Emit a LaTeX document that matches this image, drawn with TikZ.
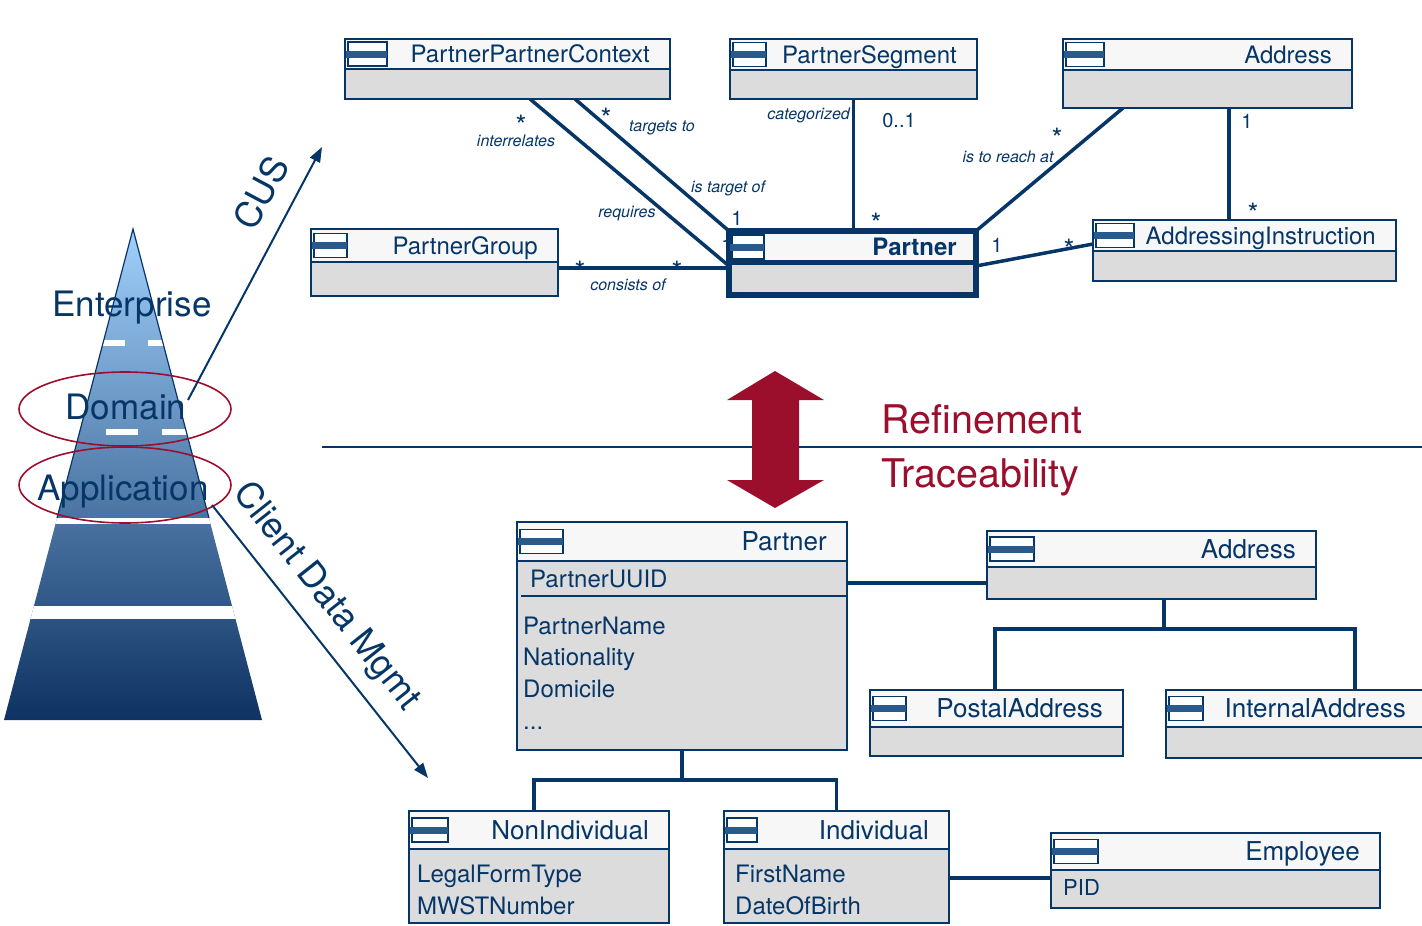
\documentclass[tikz,border=0pt]{standalone}
\usepackage{fontspec}
\setmainfont{TeX Gyre Heros}
\usetikzlibrary{calc,arrows.meta,backgrounds}

\definecolor{navy}{RGB}{6,54,104}
\definecolor{barblue}{RGB}{40,90,142}
\definecolor{headfill}{RGB}{247,247,247}
\definecolor{bodyfill}{RGB}{220,220,220}
\definecolor{wine}{RGB}{155,15,45}
\definecolor{pyrtop}{RGB}{160,208,252}
\definecolor{pyrmid}{RGB}{112,156,206}
\definecolor{pyrbot}{RGB}{14,50,98}

\newcommand{\fsz}[1]{\fontsize{#1pt}{#1pt}\selectfont}

\tikzset{
  classbody/.style={draw=navy, line width=2pt, fill=bodyfill, inner sep=0pt,
                    outer sep=0pt, anchor=north west},
  boxline/.style={draw=navy, line width=2pt},
  assoc/.style={draw=navy, line width=3.5pt},
  genline/.style={draw=navy, line width=3.5pt},
  role/.style={text=navy, font=\fsz{16}\itshape, inner sep=0pt},
  mult/.style={text=navy, font=\fsz{20}, inner sep=0pt},
  starlbl/.style={text=navy, font=\fsz{28}, inner sep=0pt, anchor=base},
  ctitle/.style={text=navy, anchor=base east, inner sep=0pt},
  attr/.style={text=navy, font=\fsz{24}, anchor=base west, inner sep=0pt},
  layername/.style={text=navy, font=\fsz{35}, inner sep=0pt},
  levelarrow/.style={draw=navy, line width=2pt, -{Triangle[length=15pt, width=11pt]}},
  levellabel/.style={text=navy, font=\fsz{36}, inner sep=0pt},
  bigword/.style={text=wine, font=\fsz{39.5}, anchor=west, inner sep=0pt},
  ring/.style={draw=wine, line width=1.6pt}
}

% class icon: small framed box with a bar across
\newcommand{\umlicon}[3]{% left edge of box, vertical centre, icon width
  \draw[navy, line width=1.6pt, fill=white] ({#1+3},{#2-12}) rectangle ({#1+3+#3},{#2+12});
  \fill[barblue] ({#1+1},{#2-3.5}) rectangle ({#1+3+#3},{#2+3.5});
}

% class box with header compartment
\newcommand{\umlclass}[9]{% name, x1, y1, x2, y2, divider y, title, title size, icon width
  \pgfmathsetmacro{\umlW}{#4-#2}%
  \pgfmathsetmacro{\umlH}{#5-#3}%
  \pgfmathsetmacro{\umlY}{(#3+#6)/2}%
  \pgfmathsetmacro{\umlB}{\umlY+0.36*#8}%
  \node[classbody, minimum width=\umlW pt, minimum height=\umlH pt] (#1) at (#2,#3) {};
  \fill[headfill] (#2,#3) rectangle (#4,#6);
  \draw[boxline] (#2,#6) -- (#4,#6);
  \draw[boxline] (#1.north west) rectangle (#1.south east);
  \umlicon{#2}{\umlY}{#9}
  \node[ctitle, font=\fsz{#8}] at ({#4-20},\umlB) {#7};
}

\begin{document}
\begin{tikzpicture}[x=1pt, y=-1pt]
\useasboundingbox (0,0) rectangle (1422,926);
\clip (0,0) rectangle (1422,926);

% ---------- pyramid of modelling levels ----------
\begin{scope}
  \clip (133,229) -- (262,720) -- (4,720) -- cycle;
  \shade[top color=pyrtop, middle color=pyrmid, bottom color=pyrbot] (0,229) rectangle (270,720);
  \fill[white] (0,606) rectangle (270,619);
  \fill[white] (0,518) rectangle (270,524);
  \fill[white] (100,340) rectangle (125,346);
  \fill[white] (148,340) rectangle (170,346);
  \fill[white] (106,429) rectangle (138,435);
  \fill[white] (162,429) rectangle (192,435);
\end{scope}
\draw[navy, line width=1.2pt] (57,518) -- (133,229) -- (209,518);

\node[layername] (lvEnt) at (132,308) {Enterprise};
\node[layername] (lvDom) at (126,407) {Domain};
\node[layername] (lvApp) at (123,492) {Application};

\draw[ring] (125,409) ellipse [x radius=106, y radius=37];
\draw[ring] (125,485) ellipse [x radius=106, y radius=38];

\coordinate (cusFrom) at (188,400);
\coordinate (cusTo) at (322,147);
\draw[levelarrow] (cusFrom) -- (cusTo);
\node[levellabel, rotate=62] (cusLbl) at (261,193) {CUS};

\coordinate (cdmFrom) at (212,505);
\coordinate (cdmTo) at (428,778);
\draw[levelarrow] (cdmFrom) -- (cdmTo);
\node[levellabel, rotate=-51.6] (cdmLbl) at (326,597) {Client Data Mgmt};

% ---------- separation of the two levels ----------
\draw[navy, line width=1.6pt] (322,447) -- (1422,447);
\fill[wine] (775,371) -- (824,400) -- (799,400) -- (799,480) -- (824,480) -- (775,508)
  -- (727,480) -- (752,480) -- (752,400) -- (727,400) -- cycle;
\node[bigword] (wRef) at (881,419) {Refinement};
\node[bigword] (wTrc) at (881,477) {Traceability};

% ---------- domain model ----------
\umlclass{ppc}{345}{39}{670}{99}{69}{PartnerPartnerContext}{24}{39}
\umlclass{pseg}{730}{39}{977}{99}{70}{PartnerSegment}{24}{33}
\umlclass{atop}{1063}{39}{1352}{108}{70}{Address}{24}{38}
\umlclass{pgrp}{311}{229}{558}{296}{262}{PartnerGroup}{24}{33}
\umlclass{ainst}{1093}{220}{1396}{281}{251}{AddressingInstruction}{24}{38}

% central class, heavy frame
\node[draw=navy, line width=6pt, fill=bodyfill, inner sep=0pt, outer sep=0pt,
      anchor=north west, minimum width=247pt, minimum height=64pt] (ptop) at (729,231) {};
\fill[headfill] (732,234) rectangle (973,261);
\draw[navy, line width=5pt] (729,262) -- (976,262);
\umlicon{729}{247}{32}
\node[ctitle, font=\fsz{24}\bfseries] at (957,255) {Partner};

\begin{scope}[on background layer]
  \node[mult] (m1b) at (727,245) {1};
  \draw[assoc] ($(ppc.south west)+(185,0)$) -- ($(ptop.west)+(0,3)$);
  \draw[assoc] ($(ppc.south west)+(230,0)$) -- (ptop.north west);
  \draw[assoc] ($(pgrp.east)+(0,5.5)$) -- ($(ptop.west)+(0,5)$);
  \draw[assoc] (pseg.south) -- (pseg.south |- ptop.north);
  \draw[assoc] ($(atop.south west)+(60,0)$) -- (ptop.north east);
  \coordinate (aiTop) at ($(atop.south west)+(166,0)$);
  \draw[assoc] (aiTop) -- (aiTop |- ainst.north);
  \draw[assoc] ($(ptop.east)+(0,3)$) -- ($(ainst.west)+(0,-6.5)$);
\end{scope}

% association ends and roles
\node[starlbl] at (521,135) {*};
\node[role] at (516,141) {interrelates};
\node[starlbl] at (606,128) {*};
\node[role] at (662,128) {targets to};
\node[role] at (728,188) {is target of};
\node[role] at (627,214) {requires};
\node[mult] at (737,218) {1};
\node[starlbl] at (580,281) {*};
\node[starlbl] at (677,281) {*};
\node[role] at (628,285) {consists of};
\node[role, anchor=east] at (850,115) {categorized};
\node[mult] at (899,121) {0..1};
\node[starlbl] at (876,233) {*};
\node[starlbl] at (1057,148) {*};
\node[role] at (1008,157) {is to reach at};
\node[mult] at (1247,121) {1};
\node[starlbl] at (1253,223) {*};
\node[mult] at (997,245) {1};
\node[starlbl] at (1069,259) {*};

% ---------- application model ----------
\umlclass{pbot}{517}{522}{847}{750}{561}{Partner}{26}{43}
\draw[boxline] (521,596) -- (846,596);
\node[attr] at (530,587) {PartnerUUID};
\node[attr] at (523,634) {PartnerName};
\node[attr] at (523,665) {Nationality};
\node[attr] at (523,697) {Domicile};
\node[attr] at (523,729) {...};

\umlclass{abot}{987}{531}{1316}{599}{567}{Address}{26}{44}
\umlclass{postal}{870}{690}{1123}{756}{727}{PostalAddress}{26}{33}
\umlclass{internal}{1166}{690}{1426}{758}{727}{InternalAddress}{26}{34}

\umlclass{nonind}{409}{811}{669}{923}{849}{NonIndividual}{26}{36}
\node[attr] at (417,882) {LegalFormType};
\node[attr] at (417,914) {MWSTNumber};
\umlclass{indiv}{724}{811}{949}{923}{849}{Individual}{26}{30}
\node[attr] at (735,882) {FirstName};
\node[attr] at (735,914) {DateOfBirth};
\umlclass{emp}{1051}{833}{1380}{908}{870}{Employee}{26}{44}
\node[attr, font=\fsz{22}] at (1063,895) {PID};

\begin{scope}[on background layer]
  \coordinate (paJoin) at ($(abot.west)+(0,18)$);
  \draw[assoc] (paJoin -| pbot.east) -- (paJoin);
  \coordinate (aFork) at ($(abot.south west)+(177,30)$);
  \draw[genline] ($(abot.south west)+(177,0)$) -- (aFork);
  \draw[genline] ($(postal.north west)+(125,0)$) |- ($(internal.north west)+(189,-61)$)
     -- ($(internal.north west)+(189,0)$);
  \coordinate (pFork) at ($(pbot.south)+(0,30)$);
  \draw[genline] (pbot.south) -- (pFork);
  \draw[genline] ($(nonind.north west)+(125,0)$) |- (pFork -| indiv.north) -- (indiv.north);
  \coordinate (ieJoin) at ($(emp.west)+(0,7.5)$);
  \draw[assoc] (ieJoin -| indiv.east) -- (ieJoin);
\end{scope}
\end{tikzpicture}
\end{document}
